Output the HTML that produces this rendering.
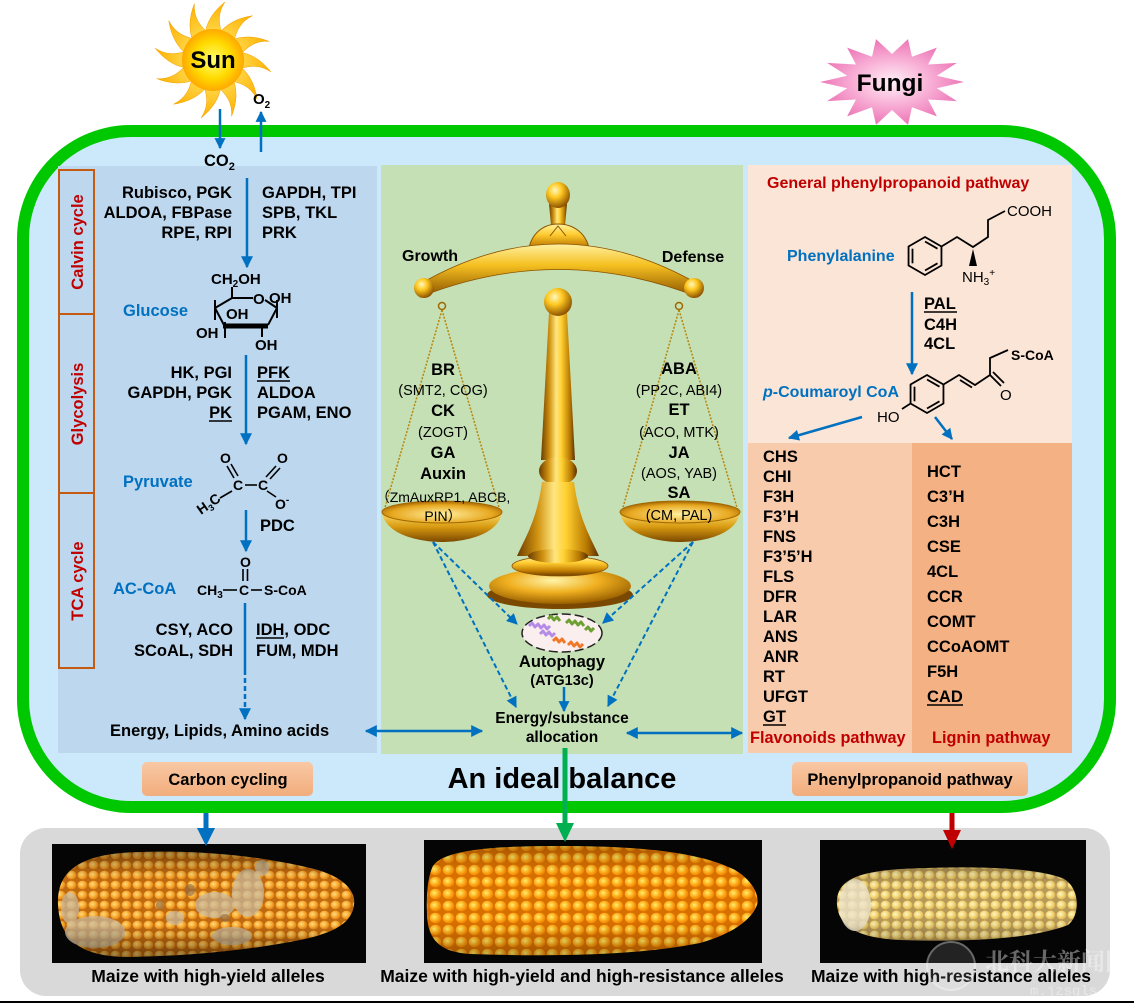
<!DOCTYPE html>
<html><head><meta charset="utf-8"><style>html,body{margin:0;padding:0;background:#fff;}svg{display:block}</style></head>
<body>
<svg width="1134" height="1005" viewBox="0 0 1134 1005" xmlns="http://www.w3.org/2000/svg" font-family="'Liberation Sans','Noto Sans CJK SC',sans-serif" font-weight="bold">
<defs>
  <marker id="mb" viewBox="0 0 10 10" refX="9" refY="5" markerWidth="13" markerHeight="12" markerUnits="userSpaceOnUse" orient="auto-start-reverse"><path d="M0,0 L10,5 L0,10 z" fill="#0070c0"/></marker>
  <marker id="ms" viewBox="0 0 10 10" refX="9" refY="5" markerWidth="12" markerHeight="11" markerUnits="userSpaceOnUse" orient="auto-start-reverse"><path d="M0,0 L10,5 L0,10 z" fill="#0070c0"/></marker>
  <linearGradient id="gH" x1="0" y1="0" x2="1" y2="0"><stop offset="0" stop-color="#6b3d00"/><stop offset=".25" stop-color="#d09210"/><stop offset=".45" stop-color="#ffe680"/><stop offset=".6" stop-color="#ffd030"/><stop offset=".85" stop-color="#b87800"/><stop offset="1" stop-color="#5a3000"/></linearGradient>
  <linearGradient id="gV" x1="0" y1="0" x2="0" y2="1"><stop offset="0" stop-color="#fff2a0"/><stop offset=".35" stop-color="#ffcc30"/><stop offset=".75" stop-color="#c07a00"/><stop offset="1" stop-color="#6b3d00"/></linearGradient>
  <radialGradient id="gBall" cx=".38" cy=".32" r=".7"><stop offset="0" stop-color="#fff8c0"/><stop offset=".4" stop-color="#ffc820"/><stop offset="1" stop-color="#8a5000"/></radialGradient>
  <linearGradient id="gPan" x1="0" y1="0" x2="0" y2="1"><stop offset="0" stop-color="#ffe070"/><stop offset=".5" stop-color="#d89a10"/><stop offset="1" stop-color="#7a4800"/></linearGradient>
  <radialGradient id="gPanTop" cx=".5" cy=".6" r=".6"><stop offset="0" stop-color="#fff0a0"/><stop offset=".7" stop-color="#e8a820"/><stop offset="1" stop-color="#a06000"/></radialGradient>
  <radialGradient id="gDisc" cx=".45" cy=".35" r=".65"><stop offset="0" stop-color="#fff4a8"/><stop offset=".5" stop-color="#f0b020"/><stop offset="1" stop-color="#9a6000"/></radialGradient>
  <linearGradient id="gBeam" x1="0" y1="0" x2="0" y2="1"><stop offset="0" stop-color="#fff0a0"/><stop offset=".4" stop-color="#f5c020"/><stop offset="1" stop-color="#8a5200"/></linearGradient>
  <radialGradient id="gSun" cx=".5" cy=".5" r=".5"><stop offset="0" stop-color="#ffff70"/><stop offset=".6" stop-color="#ffda00"/><stop offset="1" stop-color="#ffa800"/></radialGradient>
  <linearGradient id="gRay" x1="0" y1="0" x2="0" y2="1"><stop offset="0" stop-color="#ffb000"/><stop offset="1" stop-color="#ffd84a"/></linearGradient>
  <radialGradient id="gFun" cx=".5" cy=".5" r=".55"><stop offset="0" stop-color="#fff0f8"/><stop offset=".45" stop-color="#f9b4d8"/><stop offset="1" stop-color="#ea6ab0"/></radialGradient>
  <linearGradient id="gBox" x1="0" y1="0" x2="0" y2="1"><stop offset="0" stop-color="#f8c8a4"/><stop offset="1" stop-color="#f2ad7c"/></linearGradient>
  <radialGradient id="rkL" cx=".4" cy=".4" r=".6"><stop offset="0" stop-color="#ffdc80"/><stop offset=".6" stop-color="#f8aa30"/><stop offset="1" stop-color="#e08418"/></radialGradient>
  <pattern id="pL" patternUnits="userSpaceOnUse" width="11" height="10"><rect width="11" height="10" fill="#c06a10"/><ellipse cx="5.5" cy="5" rx="4.9" ry="4.4" fill="url(#rkL)"/></pattern>
  <radialGradient id="rkM" cx=".4" cy=".4" r=".6"><stop offset="0" stop-color="#fff070"/><stop offset=".55" stop-color="#ffb020"/><stop offset="1" stop-color="#f08400"/></radialGradient>
  <pattern id="pM" patternUnits="userSpaceOnUse" width="13" height="12"><rect width="13" height="12" fill="#d87000"/><ellipse cx="6.5" cy="6" rx="5.8" ry="5.3" fill="url(#rkM)"/></pattern>
  <radialGradient id="rkR" cx=".4" cy=".4" r=".6"><stop offset="0" stop-color="#fff6c8"/><stop offset=".55" stop-color="#f4d878"/><stop offset="1" stop-color="#dcb858"/></radialGradient>
  <pattern id="pR" patternUnits="userSpaceOnUse" width="11" height="10"><rect width="11" height="10" fill="#b89a58"/><ellipse cx="5.5" cy="5" rx="4.9" ry="4.5" fill="url(#rkR)"/></pattern>
  <linearGradient id="shade" x1="0" y1="0" x2="0" y2="1"><stop offset="0" stop-color="#000" stop-opacity=".35"/><stop offset=".25" stop-color="#000" stop-opacity="0"/><stop offset=".7" stop-color="#000" stop-opacity="0"/><stop offset="1" stop-color="#000" stop-opacity=".4"/></linearGradient>
</defs>

<!-- Sun -->
<g transform="translate(213,60)">
  <g fill="url(#gRay)" stroke="#f0a000" stroke-width=".5">
    <path id="ray" d="M-8,-26 C-6,-40 2,-50 12,-58 C4,-46 6,-36 9,-26 Z"/>
    <use href="#ray" transform="rotate(30)"/><use href="#ray" transform="rotate(60)"/><use href="#ray" transform="rotate(90)"/>
    <use href="#ray" transform="rotate(120)"/><use href="#ray" transform="rotate(150)"/><use href="#ray" transform="rotate(180)"/>
    <use href="#ray" transform="rotate(210)"/><use href="#ray" transform="rotate(240)"/><use href="#ray" transform="rotate(270)"/>
    <use href="#ray" transform="rotate(300)"/><use href="#ray" transform="rotate(330)"/>
  </g>
  <circle r="31" fill="url(#gSun)"/>
</g>
<text x="213" y="68" font-size="24" text-anchor="middle" fill="#000">Sun</text>

<!-- Fungi -->
<polygon fill="url(#gFun)" points="964,82 936.8,88.2 956.9,101.1 928,99.5 936.9,116.4 912,107.2 908,124.9 892,110 876,124.9 872,107.2 847.1,116.4 856,99.5 827.1,101.1 847.2,88.2 820,82 847.2,75.8 827.1,62.9 856,64.5 847.1,47.6 872,56.8 876,39.1 892,54 908,39.1 912,56.8 936.9,47.6 928,64.5 956.9,62.9 936.8,75.8"/>
<text x="890" y="91" font-size="24.5" text-anchor="middle" fill="#000">Fungi</text>

<!-- main cell -->
<rect x="23" y="131" width="1087" height="676" rx="108" ry="108" fill="#cce9fb" stroke="#00c800" stroke-width="12"/>

<!-- panels -->
<rect x="58" y="166" width="319" height="587" fill="#bdd7ee"/>
<rect x="381" y="165" width="362" height="589" fill="#c5e0b4"/>
<rect x="748" y="165" width="324" height="278" fill="#fbe5d6"/>
<rect x="748" y="443" width="164" height="310" fill="#f8cbad"/>
<rect x="912" y="443" width="160" height="310" fill="#f4b183"/>

<!-- label boxes -->
<g fill="none" stroke="#c55a11" stroke-width="2">
  <rect x="59" y="170" width="35" height="144"/>
  <rect x="59" y="314" width="35" height="179"/>
  <rect x="59" y="493" width="35" height="175"/>
</g>
<g fill="#c00000" font-size="16.5" text-anchor="middle">
  <text transform="translate(83,242) rotate(-90)">Calvin cycle</text>
  <text transform="translate(83,404) rotate(-90)">Glycolysis</text>
  <text transform="translate(83,581) rotate(-90)">TCA cycle</text>
</g>

<!-- CO2 / O2 -->
<line x1="220" y1="109" x2="220" y2="148" stroke="#0070c0" stroke-width="2.5" marker-end="url(#ms)"/>
<line x1="261" y1="152" x2="261" y2="112" stroke="#0070c0" stroke-width="2.5" marker-end="url(#ms)"/>
<text x="204" y="166" font-size="16.5">CO<tspan font-size="11" dy="4">2</tspan></text>
<text x="253" y="104" font-size="15">O<tspan font-size="10" dy="4">2</tspan></text>

<!-- Left panel text -->
<g font-size="16.5" fill="#000">
  <g text-anchor="end">
    <text x="232" y="198">Rubisco, PGK</text>
    <text x="232" y="218">ALDOA, FBPase</text>
    <text x="232" y="238">RPE, RPI</text>
    <text x="232" y="378">HK, PGI</text>
    <text x="232" y="398">GAPDH, PGK</text>
    <text x="232" y="418">PK</text>
    <text x="233" y="635">CSY, ACO</text>
    <text x="233" y="656">SCoAL, SDH</text>
  </g>
  <text x="262" y="198">GAPDH, TPI</text>
  <text x="262" y="218">SPB, TKL</text>
  <text x="262" y="238">PRK</text>
  <text x="257" y="378">PFK</text>
  <text x="257" y="398">ALDOA</text>
  <text x="257" y="418">PGAM, ENO</text>
  <text x="260" y="531">PDC</text>
  <text x="256" y="635">IDH, ODC</text>
  <text x="256" y="656">FUM, MDH</text>
  <text x="110" y="736">Energy, Lipids, Amino acids</text>
</g>
<g stroke="#000" stroke-width="1.6">
  <line x1="209" y1="421" x2="232" y2="421"/>
  <line x1="257" y1="381" x2="290" y2="381"/>
  <line x1="256" y1="638" x2="284" y2="638"/>
</g>
<g fill="#0070c0" font-size="16.5">
  <text x="123" y="316">Glucose</text>
  <text x="123" y="487">Pyruvate</text>
  <text x="113" y="594">AC-CoA</text>
</g>
<g stroke="#0070c0" stroke-width="2.5" fill="none">
  <line x1="247" y1="178" x2="247" y2="267" marker-end="url(#mb)"/>
  <line x1="246" y1="355" x2="246" y2="444" marker-end="url(#mb)"/>
  <line x1="246" y1="510" x2="246" y2="551" marker-end="url(#mb)"/>
  <line x1="245" y1="603" x2="245" y2="670"/>
  <line x1="245" y1="670" x2="245" y2="719" stroke-dasharray="5 3" marker-end="url(#mb)"/>
</g>

<!-- Glucose structure -->
<g font-size="15" fill="#000">
  <text x="211" y="284">CH<tspan font-size="10" dy="3">2</tspan><tspan dy="-3">OH</tspan></text>
  <text x="253" y="304">O</text>
  <text x="269" y="303">OH</text>
  <text x="226" y="319">OH</text>
  <text x="196" y="338">OH</text>
  <text x="255" y="350">OH</text>
</g>
<g stroke="#000" stroke-width="2" fill="none">
  <line x1="232" y1="287" x2="232" y2="299"/>
  <line x1="232" y1="298" x2="253" y2="298"/>
  <line x1="265" y1="300" x2="277" y2="308"/>
  <line x1="232" y1="298" x2="215" y2="308"/>
  <line x1="215" y1="300" x2="215" y2="320"/>
  <line x1="277" y1="300" x2="277" y2="318"/>
  <line x1="215" y1="308" x2="224" y2="325"/>
  <line x1="277" y1="308" x2="268" y2="325"/>
  <line x1="223" y1="326" x2="268" y2="326" stroke-width="5"/>
  <line x1="225" y1="322" x2="225" y2="338"/>
  <line x1="262" y1="328" x2="262" y2="337"/>
</g>

<!-- Pyruvate structure -->
<g font-size="14" fill="#000">
  <text x="220" y="463">O</text>
  <text x="277" y="463">O</text>
  <text x="233" y="490">C</text>
  <text x="258" y="490">C</text>
  <text x="275" y="509">O<tspan font-size="10" dy="-6">-</tspan></text>
  <text transform="translate(201,515) rotate(-35)">H<tspan font-size="9" dy="3">3</tspan><tspan dy="-3">C</tspan></text>
</g>
<g stroke="#000" stroke-width="1.6">
  <line x1="227" y1="466" x2="234" y2="478"/><line x1="231" y1="464" x2="238" y2="476"/>
  <line x1="245" y1="485" x2="257" y2="485"/>
  <line x1="266" y1="477" x2="276" y2="466"/><line x1="270" y1="479" x2="280" y2="468"/>
  <line x1="267" y1="491" x2="276" y2="497"/>
  <line x1="220" y1="498" x2="232" y2="491"/>
</g>

<!-- AC-CoA structure -->
<g font-size="14" fill="#000">
  <text x="197" y="595">CH<tspan font-size="10" dy="3">3</tspan></text>
  <text x="239" y="595">C</text>
  <text x="240" y="567">O</text>
  <text x="264" y="595">S-CoA</text>
</g>
<g stroke="#000" stroke-width="1.6">
  <line x1="223" y1="590" x2="237" y2="590"/>
  <line x1="251" y1="590" x2="262" y2="590"/>
  <line x1="243" y1="569" x2="243" y2="581"/><line x1="247.5" y1="569" x2="247.5" y2="581"/>
</g>

<!-- double arrows -->
<line x1="366" y1="731" x2="482" y2="731" stroke="#0070c0" stroke-width="2.5" marker-start="url(#mb)" marker-end="url(#mb)"/>
<line x1="627" y1="733" x2="742" y2="733" stroke="#0070c0" stroke-width="2.5" marker-start="url(#mb)" marker-end="url(#mb)"/>

<!-- Scale -->
<g stroke="#b8860b" stroke-width="1.5" stroke-dasharray="2 1.5" fill="none">
  <line x1="442" y1="310" x2="384" y2="511"/><line x1="442" y1="310" x2="500" y2="511"/>
  <line x1="679" y1="310" x2="622" y2="511"/><line x1="679" y1="310" x2="738" y2="511"/>
</g>
<path d="M549,204 L567,204 L564,236 L552,236 Z" fill="url(#gH)"/>
<ellipse cx="558" cy="195" rx="12" ry="13" fill="url(#gBall)"/>
<path d="M528,254 C530,232 545,224 558,224 C572,224 588,232 590,254 Z" fill="url(#gV)" stroke="#8a5200" stroke-width="1"/>
<path d="M550,236 L558,226 L566,236" fill="none" stroke="#8a5200" stroke-width="1"/>
<path d="M420,284 Q558,204 698,284 L698,297 Q558,242 420,297 Z" fill="url(#gBeam)" stroke="#8a5200" stroke-width=".8"/>
<circle cx="424" cy="288" r="10" fill="url(#gBall)"/>
<circle cx="694" cy="288" r="10" fill="url(#gBall)"/>
<circle cx="442" cy="306" r="3.5" fill="none" stroke="#a06800" stroke-width="1.5"/>
<circle cx="679" cy="306" r="3.5" fill="none" stroke="#a06800" stroke-width="1.5"/>
<path d="M549,312 L567,312 L575,460 L541,460 Z" fill="url(#gH)"/>
<circle cx="558" cy="302" r="14" fill="url(#gBall)"/>
<ellipse cx="558" cy="471" rx="19" ry="14" fill="url(#gH)"/>
<path d="M542,482 L574,482 C579,520 591,538 599,556 L517,556 C525,538 537,520 542,482 Z" fill="url(#gH)"/>
<ellipse cx="560" cy="595" rx="73" ry="14" fill="#7a4800"/>
<ellipse cx="560" cy="586" rx="71" ry="18" fill="url(#gDisc)"/>
<ellipse cx="560" cy="566" rx="48" ry="10" fill="url(#gV)" stroke="#8a5200" stroke-width=".8"/>
<ellipse cx="558" cy="556" rx="30" ry="7" fill="url(#gH)"/>
<path d="M382,512 C385,535 420,542 442,542 C464,542 499,535 502,512 Z" fill="url(#gPan)"/>
<ellipse cx="442" cy="512" rx="60" ry="11" fill="url(#gPanTop)" stroke="#a06800" stroke-width="1"/>
<path d="M620,512 C623,535 658,542 680,542 C702,542 737,535 740,512 Z" fill="url(#gPan)"/>
<ellipse cx="680" cy="512" rx="60" ry="11" fill="url(#gPanTop)" stroke="#a06800" stroke-width="1"/>

<!-- Middle text -->
<g fill="#000" text-anchor="middle">
  <text x="430" y="261" font-size="16">Growth</text>
  <text x="693" y="262" font-size="16">Defense</text>
  <text x="443" y="375" font-size="16.5">BR</text>
  <text x="443" y="395" font-size="14.5" font-weight="normal">(SMT2, COG)</text>
  <text x="443" y="416" font-size="16.5">CK</text>
  <text x="443" y="437" font-size="14.5" font-weight="normal">(ZOGT)</text>
  <text x="443" y="458" font-size="16.5">GA</text>
  <text x="443" y="479" font-size="16.5">Auxin</text>
  <text x="443" y="502" font-size="14" font-weight="normal">（ZmAuxRP1, ABCB,</text>
  <text x="443" y="521" font-size="14" font-weight="normal">PIN）</text>
  <text x="679" y="374" font-size="16.5">ABA</text>
  <text x="679" y="395" font-size="14.5" font-weight="normal">(PP2C, ABI4)</text>
  <text x="679" y="415" font-size="16.5">ET</text>
  <text x="679" y="437" font-size="14.5" font-weight="normal">(ACO, MTK)</text>
  <text x="679" y="458" font-size="16.5">JA</text>
  <text x="679" y="478" font-size="14.5" font-weight="normal">(AOS, YAB)</text>
  <text x="679" y="498" font-size="16.5">SA</text>
  <text x="679" y="520" font-size="14.5" font-weight="normal">(CM, PAL)</text>
  <text x="562" y="667" font-size="16.5">Autophagy</text>
  <text x="562" y="685" font-size="14.5">(ATG13c)</text>
  <text x="562" y="723" font-size="15.5">Energy/substance</text>
  <text x="562" y="742" font-size="15.5">allocation</text>
</g>

<!-- autophagy icon -->
<ellipse cx="562" cy="633" rx="40" ry="19" fill="#fbeeee" stroke="#222" stroke-width="1.5" stroke-dasharray="9 4"/>
<g fill="none" stroke-width="3" stroke-linejoin="round">
  <polyline points="529,626 532,623 535,627 538,624 541,628 544,625 547,629 550,626" stroke="#b48ce8"/>
  <polyline points="540,634 543,631 546,635 549,632 552,636 555,633" stroke="#b48ce8"/>
  <polyline points="548,619 551,616 554,620 557,617 560,621" stroke="#6ca030"/>
  <polyline points="566,623 569,620 572,624 575,621 578,625 581,622 584,626" stroke="#6ca030"/>
  <polyline points="585,630 588,627 591,631 594,628" stroke="#6ca030"/>
  <polyline points="553,641 556,638 559,642 562,639 565,643" stroke="#f07828"/>
  <polyline points="568,645 571,642 574,646 577,643 580,647 583,644" stroke="#f07828"/>
</g>

<!-- dashed arrows -->
<g stroke="#0070c0" stroke-width="2" stroke-dasharray="5 3" fill="none">
  <line x1="433" y1="542" x2="517" y2="624" marker-end="url(#ms)"/>
  <line x1="433" y1="542" x2="516" y2="707" marker-end="url(#ms)"/>
  <line x1="693" y1="542" x2="603" y2="623" marker-end="url(#ms)"/>
  <line x1="693" y1="542" x2="608" y2="706" marker-end="url(#ms)"/>
</g>
<line x1="564" y1="687" x2="564" y2="711" stroke="#0070c0" stroke-width="2.5" marker-end="url(#ms)"/>

<!-- Right panel -->
<text x="767" y="188" font-size="16" fill="#c00000">General phenylpropanoid pathway</text>
<text x="787" y="261" font-size="16" fill="#0070c0">Phenylalanine</text>
<text x="763" y="397" font-size="16" fill="#0070c0"><tspan font-style="italic">p</tspan>-Coumaroyl CoA</text>
<g stroke="#000" stroke-width="1.8" fill="none">
  <polygon points="925,237 941.45,246.5 941.45,265.5 925,275 908.55,265.5 908.55,246.5"/>
  <line x1="925" y1="241.5" x2="937.5" y2="248.7"/><line x1="937.5" y1="263.3" x2="925" y2="270.5"/><line x1="912.5" y1="263.3" x2="912.5" y2="248.7"/>
  <polyline points="941.45,246.5 957,237 973,247 988,237 988,220 1005,211"/>
  <polygon points="927,375 943.45,384.5 943.45,403.5 927,413 910.55,403.5 910.55,384.5"/>
  <line x1="927" y1="379.5" x2="939.5" y2="386.7"/><line x1="939.5" y1="401.3" x2="927" y2="408.5"/><line x1="914.5" y1="401.3" x2="914.5" y2="386.7"/>
  <polyline points="943.45,384.5 959,375 975,385 990,375 990,358 1008,350"/>
  <line x1="960" y1="380" x2="972" y2="387.5"/>
  <line x1="990" y1="375" x2="1001" y2="386"/><line x1="993" y1="372" x2="1004" y2="383"/>
  <line x1="910.55" y1="403.5" x2="902" y2="409"/>
</g>
<polygon points="973,249 969,266 977,266" fill="#000"/>
<g font-weight="normal" font-size="15" fill="#000">
  <text x="1007" y="216">COOH</text>
  <text x="962" y="282">NH<tspan font-size="10" dy="3">3</tspan><tspan font-size="10" dy="-9">+</tspan></text>
  <text x="1000" y="400">O</text>
  <text x="877" y="422">HO</text>
</g>
<text x="1011" y="360" font-size="14" fill="#000">S-CoA</text>
<line x1="912" y1="292" x2="912" y2="374" stroke="#0070c0" stroke-width="2.5" marker-end="url(#mb)"/>
<g font-size="16.5" fill="#000">
  <text x="924" y="309">PAL</text><text x="924" y="330">C4H</text><text x="924" y="349">4CL</text>
</g>
<line x1="924" y1="312" x2="957" y2="312" stroke="#000" stroke-width="1.6"/>
<line x1="862" y1="417" x2="789" y2="438" stroke="#0070c0" stroke-width="2.5" marker-end="url(#ms)"/>
<line x1="935" y1="417" x2="952" y2="439" stroke="#0070c0" stroke-width="2.5" marker-end="url(#ms)"/>

<g font-size="16.5" fill="#000">
  <text x="763" y="462">CHS</text><text x="763" y="482">CHI</text><text x="763" y="502">F3H</text>
  <text x="763" y="522">F3’H</text><text x="763" y="542">FNS</text><text x="763" y="562">F3’5’H</text>
  <text x="763" y="582">FLS</text><text x="763" y="602">DFR</text><text x="763" y="622">LAR</text>
  <text x="763" y="642">ANS</text><text x="763" y="662">ANR</text><text x="763" y="682">RT</text>
  <text x="763" y="702">UFGT</text><text x="763" y="722">GT</text>
  <text x="927" y="477">HCT</text><text x="927" y="502">C3’H</text><text x="927" y="527">C3H</text>
  <text x="927" y="552">CSE</text><text x="927" y="577">4CL</text><text x="927" y="602">CCR</text>
  <text x="927" y="627">COMT</text><text x="927" y="652">CCoAOMT</text><text x="927" y="677">F5H</text>
  <text x="927" y="702">CAD</text>
</g>
<line x1="763" y1="725" x2="786" y2="725" stroke="#000" stroke-width="1.6"/>
<line x1="927" y1="705" x2="963" y2="705" stroke="#000" stroke-width="1.6"/>
<text x="750" y="743" font-size="16.3" fill="#c00000">Flavonoids pathway</text>
<text x="932" y="743" font-size="16.3" fill="#c00000">Lignin pathway</text>

<!-- bottom labels -->
<rect x="142" y="762" width="171" height="34" rx="5" fill="url(#gBox)"/>
<text x="228" y="785" font-size="16.5" text-anchor="middle" fill="#000">Carbon cycling</text>
<rect x="792" y="762" width="236" height="34" rx="5" fill="url(#gBox)"/>
<text x="910" y="785" font-size="16.5" text-anchor="middle" fill="#000">Phenylpropanoid pathway</text>
<text x="562" y="788" font-size="29" text-anchor="middle" fill="#000">An ideal balance</text>

<!-- bottom gray panel -->
<rect x="20" y="828" width="1090" height="168" rx="26" fill="#d9d9d9"/>
<rect x="52" y="844" width="314" height="119" fill="#050505"/>
<rect x="424" y="840" width="338" height="123" fill="#050505"/>
<rect x="820" y="840" width="266" height="123" fill="#050505"/>

<!-- left corn -->
<path d="M58,905 C56,868 85,853 140,852 C200,850 260,856 310,868 C345,876 356,892 354,905 C352,920 340,932 300,940 C250,950 190,956 130,957 C80,957 60,940 58,905 Z" fill="url(#pL)"/>
<g fill="#c8bca4" opacity=".7">
  <ellipse cx="95" cy="932" rx="30" ry="16"/><ellipse cx="70" cy="908" rx="9" ry="16"/>
  <ellipse cx="215" cy="905" rx="20" ry="13"/><ellipse cx="248" cy="893" rx="16" ry="24"/>
  <ellipse cx="232" cy="936" rx="20" ry="9"/><ellipse cx="175" cy="918" rx="9" ry="7"/>
  <ellipse cx="262" cy="868" rx="7" ry="8"/>
</g>
<g fill="#8a6a4a" opacity=".6">
  <ellipse cx="190" cy="890" rx="5" ry="6"/><ellipse cx="160" cy="905" rx="4" ry="5"/><ellipse cx="225" cy="918" rx="5" ry="4"/>
</g>
<path d="M58,905 C56,868 85,853 140,852 C200,850 260,856 310,868 C345,876 356,892 354,905 C352,920 340,932 300,940 C250,950 190,956 130,957 C80,957 60,940 58,905 Z" fill="url(#shade)"/>

<!-- middle corn -->
<path d="M432,868 C440,850 490,846 560,846 C640,846 700,852 735,870 C752,880 760,895 757,905 C752,920 730,935 700,943 C640,955 560,957 470,954 C440,952 428,940 427,915 C426,895 428,878 432,868 Z" fill="url(#pM)"/>
<path d="M432,868 C440,850 490,846 560,846 C640,846 700,852 735,870 C752,880 760,895 757,905 C752,920 730,935 700,943 C640,955 560,957 470,954 C440,952 428,940 427,915 C426,895 428,878 432,868 Z" fill="url(#shade)" opacity=".6"/>

<!-- right corn -->
<path d="M837,905 C835,880 858,872 900,869 C960,866 1030,866 1062,878 C1080,886 1081,915 1068,925 C1030,940 960,942 900,940 C860,938 839,928 837,905 Z" fill="url(#pR)"/>
<ellipse cx="855" cy="905" rx="16" ry="26" fill="#ece4cc" opacity=".8"/>
<path d="M837,905 C835,880 858,872 900,869 C960,866 1030,866 1062,878 C1080,886 1081,915 1068,925 C1030,940 960,942 900,940 C860,938 839,928 837,905 Z" fill="url(#shade)" opacity=".5"/>

<!-- bottom captions -->
<g font-size="17.5" fill="#000" text-anchor="middle">
  <text x="208" y="982">Maize with high-yield alleles</text>
  <text x="582" y="982">Maize with high-yield and high-resistance alleles</text>
  <text x="951" y="982">Maize with high-resistance alleles</text>
</g>

<!-- watermark -->
<g opacity=".4">
  <circle cx="951" cy="966" r="24" fill="#ffffff" fill-opacity=".3" stroke="#fff" stroke-width="2"/>
  <text x="985" y="970" font-size="24" fill="#fff" font-family="'Noto Serif CJK SC','Noto Sans CJK SC',serif">北科大新闻网</text>
  <text x="1030" y="995" font-size="14" font-weight="normal" fill="#fff" font-family="'Liberation Mono',monospace">m.jzsgls</text>
</g>

<!-- vertical arrows out of cell -->
<line x1="206" y1="813" x2="206" y2="830" stroke="#0070c0" stroke-width="5"/>
<polygon points="197,828 215,828 206,846" fill="#0070c0"/>
<line x1="952" y1="813" x2="952" y2="832" stroke="#c00000" stroke-width="5"/>
<polygon points="943,830 961,830 952,849" fill="#c00000"/>
<line x1="565" y1="748" x2="565" y2="826" stroke="#00b050" stroke-width="5"/>
<polygon points="556,823 574,823 565,842" fill="#00b050"/>

<rect x="0" y="1001" width="1134" height="2" fill="#000"/>
</svg>
</body></html>
